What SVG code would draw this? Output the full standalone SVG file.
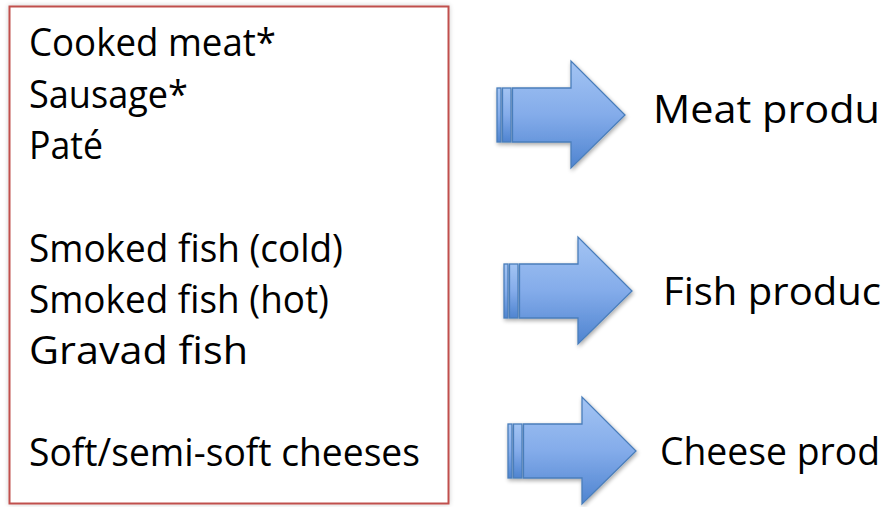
<svg xmlns="http://www.w3.org/2000/svg" width="888" height="507" viewBox="0 0 888 507">
  <defs>
    <linearGradient id="arrowFill" x1="0" y1="0" x2="0" y2="1">
      <stop offset="0" stop-color="#a3c4f3"/>
      <stop offset="0.5" stop-color="#84acea"/>
      <stop offset="1" stop-color="#4f84d0"/>
    </linearGradient>
    <filter id="shadow" x="-10%" y="-10%" width="130%" height="130%">
      <feGaussianBlur in="SourceAlpha" stdDeviation="2"/>
      <feOffset dx="1" dy="2" result="b"/>
      <feComponentTransfer><feFuncA type="linear" slope="0.35"/></feComponentTransfer>
      <feMerge><feMergeNode/><feMergeNode in="SourceGraphic"/></feMerge>
    </filter>
    <filter id="boxShadow" x="-5%" y="-5%" width="110%" height="110%">
      <feGaussianBlur in="SourceAlpha" stdDeviation="2.5"/>
      <feComponentTransfer><feFuncA type="linear" slope="0.2"/></feComponentTransfer>
      <feMerge><feMergeNode/><feMergeNode in="SourceGraphic"/></feMerge>
    </filter>
    <g id="arrow">
      <rect x="0" y="27" width="4" height="54" class="ar"/>
      <rect x="5.5" y="27" width="8.5" height="54" class="ar"/>
      <path d="M15.5,27 H74 V0 L128,54 L74,107 V81 H15.5 Z" class="ar"/>
    </g>
  </defs>
  <style>
    .ar { fill: url(#arrowFill); stroke: #4a7ebb; stroke-width: 1.3; stroke-linejoin: miter; }
    .t { font-family: "Open Sans", "Liberation Sans", sans-serif; font-size: 39px; fill: #000; }
  </style>
  <rect width="888" height="507" fill="#ffffff"/>

  <g id="source-box">
    <rect x="9.5" y="6.5" width="439" height="497" fill="#ffffff" stroke="#c0504d" stroke-width="2" filter="url(#boxShadow)"/>
    <text class="t" x="29" y="56" textLength="247" lengthAdjust="spacingAndGlyphs">Cooked meat*</text>
    <text class="t" x="29" y="107.5" textLength="159" lengthAdjust="spacingAndGlyphs">Sausage*</text>
    <text class="t" x="29" y="159" textLength="74" lengthAdjust="spacingAndGlyphs">Paté</text>
    <text class="t" x="29" y="262" textLength="314" lengthAdjust="spacingAndGlyphs">Smoked fish (cold)</text>
    <text class="t" x="29" y="313" textLength="300" lengthAdjust="spacingAndGlyphs">Smoked fish (hot)</text>
    <text class="t" x="29" y="364" textLength="219" lengthAdjust="spacingAndGlyphs">Gravad fish</text>
    <text class="t" x="29" y="466" textLength="391" lengthAdjust="spacingAndGlyphs">Soft/semi-soft cheeses</text>
  </g>

  <g id="connectors" filter="url(#shadow)">
    <use href="#arrow" transform="translate(497,61)"/>
    <use href="#arrow" transform="translate(504,237)"/>
    <use href="#arrow" transform="translate(508,397)"/>
  </g>

  <g id="meat-products">
    <text class="t" x="653" y="123" textLength="227" lengthAdjust="spacingAndGlyphs">Meat produ</text>
  </g>
  <g id="fish-products">
    <text class="t" x="663" y="305" textLength="218" lengthAdjust="spacingAndGlyphs">Fish produc</text>
  </g>
  <g id="cheese-products">
    <text class="t" x="660" y="465" style="font-size:38px" textLength="220" lengthAdjust="spacingAndGlyphs">Cheese prod</text>
  </g>
</svg>
